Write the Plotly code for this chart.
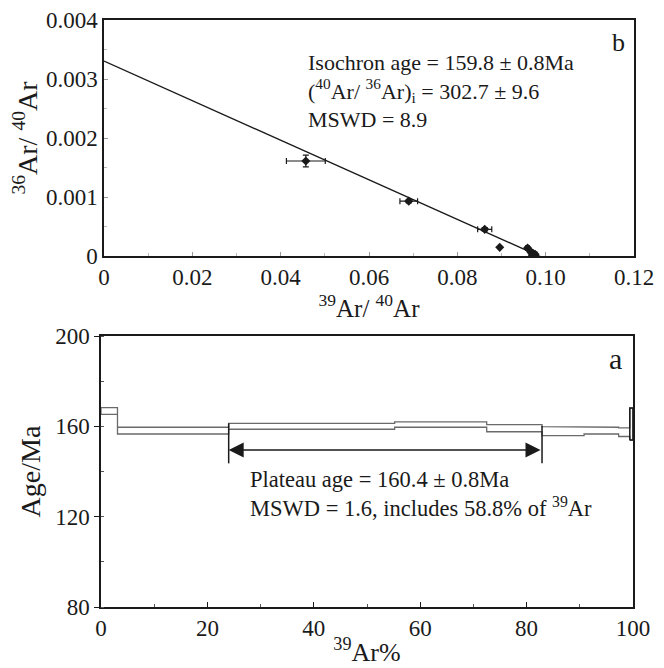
import plotly.graph_objects as go

# ---------------- Data: isochron (panel b) ----------------
iso_x = [0.0457, 0.0690, 0.0862, 0.0896, 0.0959, 0.0966, 0.0972, 0.0976, 0.0970]
iso_y = [0.00161, 0.00093, 0.000452, 0.000147, 0.000136, 0.00007, 0.00004, 0.00003, 0.00001]
iso_xerr = [0.0044, 0.0020, 0.0016, 0.0, 0.0004, 0.0004, 0.0004, 0.0004, 0.0004]
iso_yerr = [0.00010, 0.00003, 0.00003, 0.0, 0.00002, 0.00002, 0.00002, 0.00002, 0.00002]
iso_intercept = 1 / 302.7      # 36Ar/40Ar at 39Ar/40Ar = 0
iso_x_intercept = 0.0985       # 39Ar/40Ar at 36Ar/40Ar = 0
iso_line_xmax = 0.0997

iso_xticks = [0, 0.02, 0.04, 0.06, 0.08, 0.10, 0.12]
iso_xticklabels = ["0", "0.02", "0.04", "0.06", "0.08", "0.10", "0.12"]
iso_yticks = [0, 0.001, 0.002, 0.003, 0.004]
iso_yticklabels = ["0", "0.001", "0.002", "0.003", "0.004"]

# ---------------- Data: age spectrum (panel a) ----------------
step_pct = [3.1, 20.9, 31.2, 17.3, 10.4, 7.9, 6.5, 2.1, 0.6]       # % of 39Ar released per step
step_age = [166.8, 158.1, 160.0, 160.8, 159.2, 157.9, 158.1, 157.4, 161.0]  # Ma
step_err = [1.5, 1.5, 1.3, 1.2, 1.6, 2.0, 1.5, 1.9, 7.1]            # Ma
plateau_first, plateau_last = 2, 4
plateau_arrow_age = 149.5
plateau_bar_low = 143.6

age_xticks = [0, 20, 40, 60, 80, 100]
age_yticks = [80, 120, 160, 200]

# ---------------- Derived ----------------
cum = [0.0]
for p in step_pct:
    cum.append(round(cum[-1] + p, 3))

FONT = "Liberation Serif, DejaVu Serif, Noto Serif, serif"
BLACK = "#1a1a1a"
W, H = 656, 660          # page body has an 8px margin in the 664x668 window
OFF = 8


def px(X):
    return (X - OFF) / W


def py(Y):
    return 1 - (Y - OFF) / H


fig = go.Figure()

# isochron line
lx = [0.0, iso_line_xmax]
ly = [iso_intercept * (1 - x / iso_x_intercept) for x in lx]
fig.add_trace(go.Scatter(x=lx, y=ly, mode="lines", line=dict(color=BLACK, width=1.4),
                         xaxis="x", yaxis="y", showlegend=False, hoverinfo="skip"))
# isochron points
fig.add_trace(go.Scatter(
    x=iso_x, y=iso_y, mode="markers",
    marker=dict(symbol="diamond", size=7, color=BLACK),
    error_x=dict(type="data", array=iso_xerr, color=BLACK, thickness=1.2, width=3),
    error_y=dict(type="data", array=iso_yerr, color=BLACK, thickness=1.2, width=3),
    xaxis="x", yaxis="y", showlegend=False))

# age spectrum: top and bottom envelopes as step lines
top_x, top_y, bot_y = [], [], []
for i in range(len(step_pct)):
    top_x += [cum[i], cum[i + 1]]
    top_y += [step_age[i] + step_err[i]] * 2
    bot_y += [step_age[i] - step_err[i]] * 2
outline_x = top_x + [cum[-1]] + top_x[::-1] + [cum[0]]
outline_y = top_y + [bot_y[-1]] + bot_y[::-1] + [top_y[0]]
fig.add_trace(go.Scatter(x=outline_x, y=outline_y, mode="lines",
                         line=dict(color="#6a6a6a", width=1.3),
                         xaxis="x2", yaxis="y2", showlegend=False, hoverinfo="skip"))
# last (tiny) step drawn darker
fig.add_trace(go.Scatter(x=[cum[-2], cum[-2], cum[-1], cum[-1], cum[-2]],
                         y=[bot_y[-1], top_y[-1], top_y[-1], bot_y[-1], bot_y[-1]],
                         mode="lines", line=dict(color=BLACK, width=1.5),
                         xaxis="x2", yaxis="y2", showlegend=False, hoverinfo="skip"))

# plateau end bars
p0 = cum[plateau_first]
p1 = cum[plateau_last + 1]
fig.add_trace(go.Scatter(
    x=[p0, p0, None, p1, p1],
    y=[plateau_bar_low, step_age[plateau_first] + step_err[plateau_first], None,
       plateau_bar_low, step_age[plateau_last] + step_err[plateau_last] - 0.7],
    mode="lines", line=dict(color=BLACK, width=1.5),
    xaxis="x2", yaxis="y2", showlegend=False, hoverinfo="skip"))

axis_common = dict(showline=True, linecolor=BLACK, linewidth=1.5, mirror=True,
                   showgrid=False, zeroline=False, automargin=False,
                   ticklabeloverflow="allow",
                   tickfont=dict(family=FONT, size=23, color=BLACK))

fig.update_layout(
    width=W, height=H,
    margin=dict(l=0, r=0, t=0, b=0, autoexpand=False),
    paper_bgcolor="white", plot_bgcolor="white",
    font=dict(family=FONT, color=BLACK),
    xaxis=dict(domain=[px(104), px(634)], range=[0, 0.12], anchor="y",
               tickvals=iso_xticks, ticktext=iso_xticklabels,
               ticks="inside", ticklen=4, tickcolor="#999",
               minor=dict(dtick=0.01, ticks="inside", ticklen=3, tickcolor="#bbb"),
               title=dict(text="<sup>39</sup>Ar/ <sup>40</sup>Ar",
                          font=dict(family=FONT, size=25, color=BLACK), standoff=0),
               **axis_common),
    yaxis=dict(domain=[py(256), py(20)], range=[0, 0.004], anchor="x",
               tickvals=iso_yticks, ticktext=iso_yticklabels,
               ticks="inside", ticklen=4, tickcolor="#999",
               minor=dict(dtick=0.0005, ticks="inside", ticklen=3, tickcolor="#bbb"),
               title=dict(text="<sup>36</sup>Ar/ <sup>40</sup>Ar",
                          font=dict(family=FONT, size=28, color=BLACK), standoff=2),
               **axis_common),
    xaxis2=dict(domain=[px(101), px(633)], range=[0, 100], anchor="y2",
                tickvals=age_xticks, ticks="inside", ticklen=5, tickcolor=BLACK,
                minor=dict(dtick=10, ticks="inside", ticklen=3, tickcolor="#555"),
                title=dict(text="<sup>39</sup>Ar%",
                           font=dict(family=FONT, size=26, color=BLACK), standoff=2),
                **axis_common),
    yaxis2=dict(domain=[py(607), py(336)], range=[80, 200], anchor="x2",
                tickvals=age_yticks, ticks="outside", ticklen=5, tickcolor=BLACK,
                minor=dict(dtick=20, ticks="inside", ticklen=3, tickcolor="#555"),
                title=dict(text="Age/Ma",
                           font=dict(family=FONT, size=28, color=BLACK), standoff=6),
                **axis_common),
)

iso_text = ("Isochron age = 159.8 ± 0.8Ma<br>"
            "(<sup>40</sup>Ar/ <sup>36</sup>Ar)<sub>i</sub> = 302.7 ± 9.6<br>"
            "MSWD = 8.9")
fig.add_annotation(text=iso_text, xref="paper", yref="paper", x=px(306), y=py(91),
                   xanchor="left", yanchor="middle", align="left", showarrow=False,
                   font=dict(family=FONT, size=22, color=BLACK))
pl_text = ("Plateau age = 160.4 ± 0.8Ma<br>"
           "MSWD = 1.6, includes 58.8% of <sup>39</sup>Ar")
fig.add_annotation(text=pl_text, xref="paper", yref="paper", x=px(248), y=py(494),
                   xanchor="left", yanchor="middle", align="left", showarrow=False,
                   font=dict(family=FONT, size=22.5, color=BLACK))

fig.add_annotation(text="b", xref="paper", yref="paper", x=px(618), y=py(42),
                   xanchor="center", yanchor="middle", showarrow=False,
                   font=dict(family=FONT, size=26, color=BLACK))
fig.add_annotation(text="a", xref="paper", yref="paper", x=px(615), y=py(358),
                   xanchor="center", yanchor="middle", showarrow=False,
                   font=dict(family=FONT, size=30, color=BLACK))

# plateau double arrow
fig.add_annotation(x=p0, y=plateau_arrow_age, ax=p1, ay=plateau_arrow_age,
                   xref="x2", yref="y2", axref="x2", ayref="y2",
                   text="", showarrow=True, arrowhead=2, arrowside="end+start",
                   arrowsize=2, arrowwidth=1.5, arrowcolor=BLACK, standoff=0, startstandoff=0)

fig.write_html("out.html")
